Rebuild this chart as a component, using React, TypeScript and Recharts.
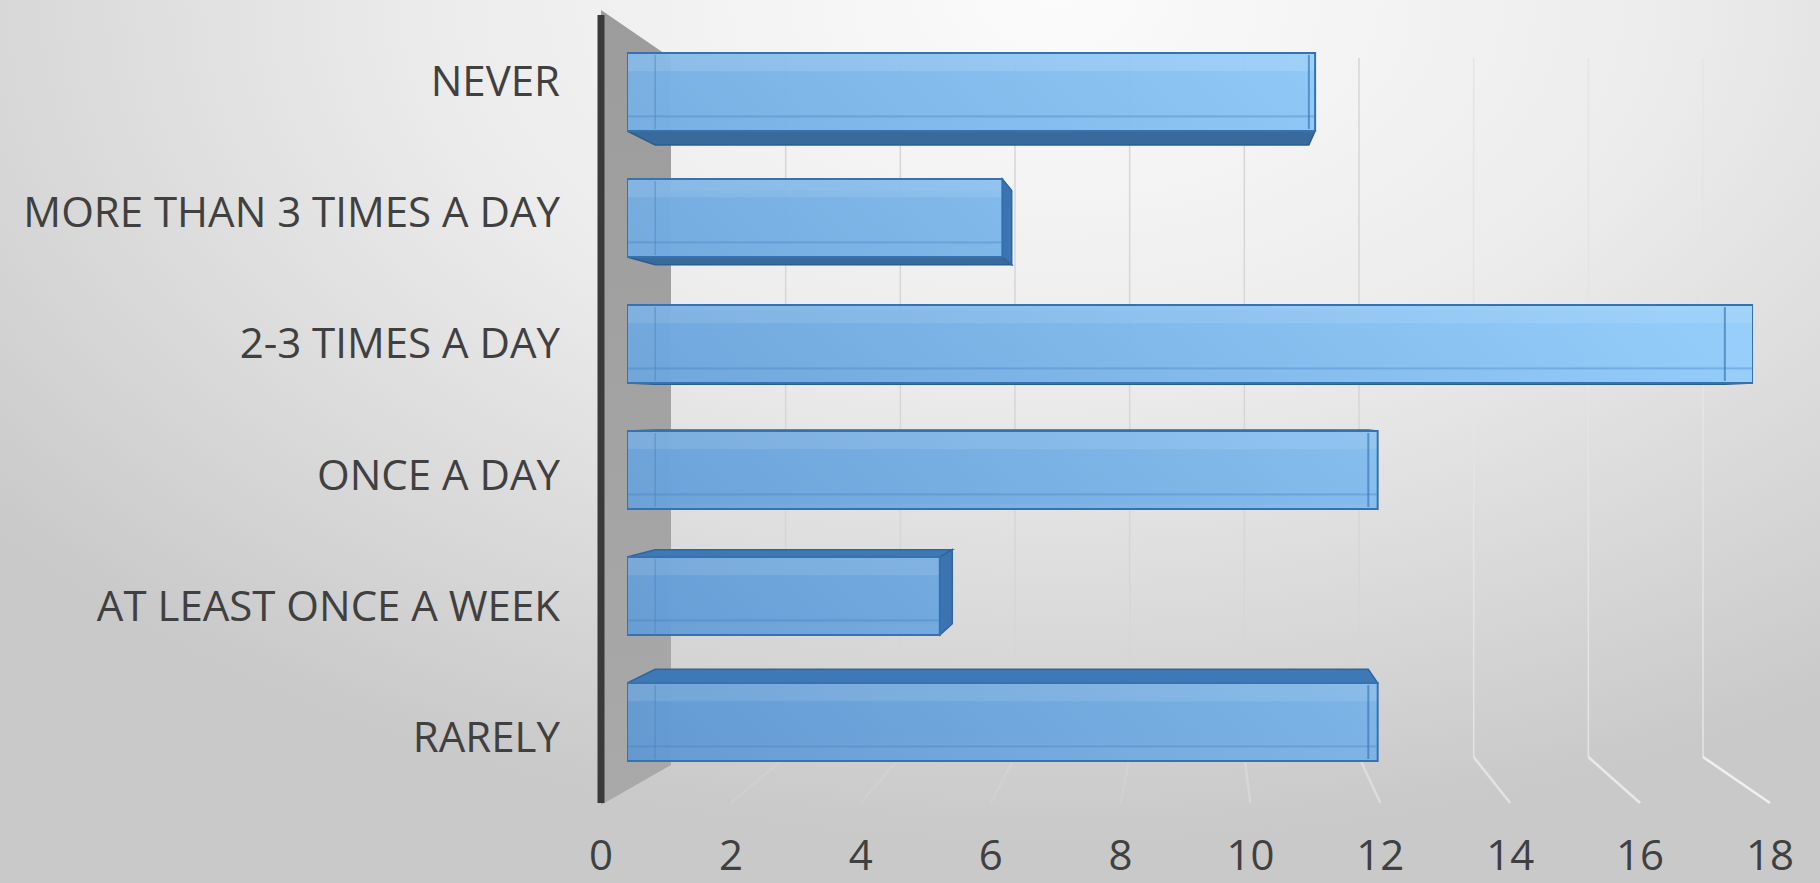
import React from "react";
import { BarChart, Bar, XAxis, YAxis, CartesianGrid } from "recharts";

// chart data
const categories = [
  "NEVER",
  "MORE THAN 3 TIMES A DAY",
  "2-3 TIMES A DAY",
  "ONCE A DAY",
  "AT LEAST ONCE A WEEK",
  "RARELY",
];
const counts = [11, 6, 18, 12, 5, 12];
const xTicks = [0, 2, 4, 6, 8, 10, 12, 14, 16, 18];

const data = categories.map((name, i) => ({ name, value: counts[i] }));

// layout
const W = 1820;
const H = 883;
const PLOT_LEFT = 601;
const MARGIN_RIGHT = 50;
const PLOT_RIGHT = W - MARGIN_RIGHT;
const BACK_PAD = { left: 70, right: 67 };
const BAR_PAD = { left: 26, right: 17 };
const WALL_TOP_DROP = 43;
const WALL_BOTTOM_RISE = 46;

// fake perspective for the "3d" bars
const VX = 1190;
const VY = 410;
const DEPTH = 0.05;

const toBack = (px: number, py: number) => [
  VX + (px - VX) * (1 - DEPTH),
  VY + (py - VY) * (1 - DEPTH),
];
const pts = (arr: number[][]) => arr.map((a) => a.join(",")).join(" ");

const GlassBar = (props: any) => {
  const { x, y, width, height, index } = props;
  if (!width || width <= 0) return null;
  const r = x + width;
  const b = y + height;
  const [bl, bt] = toBack(x, y);
  const [br, bb] = toBack(r, b);
  const below = y + height / 2 > VY;
  const gid = `glass-${index}`;
  return (
    <g>
      <defs>
        <linearGradient id={gid} gradientUnits="userSpaceOnUse" x1={PLOT_LEFT} y1={803} x2={PLOT_RIGHT - 400} y2={15}>
          <stop offset="0%" stopColor="#5e96d0" />
          <stop offset="100%" stopColor="#93cdfb" />
        </linearGradient>
      </defs>
      <rect x={bl} y={bt} width={br - bl} height={bb - bt} fill="#4f88c3" opacity={0.55} />
      {below ? (
        <polygon points={pts([[x, y], [r, y], [br, bt], [bl, bt]])} fill="#3f79b5" stroke="#2f66a0" strokeWidth={1.5} />
      ) : (
        <polygon points={pts([[x, b], [r, b], [br, bb], [bl, bb]])} fill="#396a9b" stroke="#2c5d8e" strokeWidth={1.5} />
      )}
      {br > r && (
        <polygon points={pts([[r, y], [br, bt], [br, bb], [r, b]])} fill="#3b74b0" stroke="#2f66a0" strokeWidth={1.5} />
      )}
      <rect x={x} y={y} width={width} height={height} fill={`url(#${gid})`} fillOpacity={0.95} stroke="#3472b0" strokeWidth={2} />
      <rect x={x + 1} y={y + 1} width={width - 2} height={height * 0.22} fill="#ffffff" opacity={0.1} />
      <rect x={x + 1} y={b - height * 0.2} width={width - 2} height={2} fill="#3f7dbc" opacity={0.35} />
      <line x1={bl} y1={y + 2} x2={bl} y2={b - 2} stroke="#4a85c2" strokeOpacity={0.5} strokeWidth={1.5} />
      {br < r && (
        <line x1={br} y1={y + 2} x2={br} y2={b - 2} stroke="#3d78b6" strokeOpacity={0.7} strokeWidth={2} />
      )}
    </g>
  );
};

// back wall grid lines, floor lines and the left side wall
const backLeft = PLOT_LEFT + BACK_PAD.left;
const backRight = PLOT_RIGHT - BACK_PAD.right;
const backSpan = backRight - backLeft;
const frontSpan = PLOT_RIGHT - PLOT_LEFT;

const WallLine = (props: any) => {
  const { x1, y1, y2, index } = props;
  const key = `wall-${index}`;
  if (x1 < backLeft - 1 || x1 > backRight + 1) return <g key={key} />;
  const top = y1 + WALL_TOP_DROP;
  const bottom = y2 - WALL_BOTTOM_RISE;
  const fx = PLOT_LEFT + ((x1 - backLeft) * frontSpan) / backSpan;
  const step = Math.round(((x1 - backLeft) / backSpan) * 9);
  if (step === 0) {
    return (
      <g key={key}>
        <defs>
          <linearGradient id="wallGrad" x1="0" y1="0" x2="0" y2="1">
            <stop offset="0%" stopColor="#9c9c9c" />
            <stop offset="100%" stopColor="#a9a9a9" />
          </linearGradient>
        </defs>
        <polygon
          points={pts([[PLOT_LEFT, y1 - 5], [x1, top], [x1, bottom + 8], [PLOT_LEFT, y2 + 2]])}
          fill="url(#wallGrad)"
        />
      </g>
    );
  }
  const fade = Math.max(0, (step - 4) / 5);
  return (
    <g key={key}>
      <line x1={x1} y1={top} x2={x1} y2={bottom} stroke={step > 6 ? "#e4e4e4" : "#d6d6d6"} strokeWidth={1.5} />
      <line x1={x1} y1={bottom} x2={fx} y2={y2} stroke="#f4f4f4" strokeWidth={2.5} strokeOpacity={0.1 + fade * 0.8} />
    </g>
  );
};

export default function App() {
  return (
    <div
      style={{
        position: "absolute",
        left: 0,
        top: 0,
        width: W,
        height: H,
        background:
          "radial-gradient(ellipse 75% 95% at 58% 0%, #fbfbfb 0%, #ececec 45%, #d6d6d6 80%, #c9c9c9 100%)",
      }}
    >
      <BarChart
        width={W}
        height={H}
        data={data}
        layout="vertical"
        margin={{ top: 15, right: MARGIN_RIGHT, bottom: 0, left: 0 }}
      >
        <CartesianGrid xAxisId="back" yAxisId="bars" horizontal={false} vertical={WallLine} />
        <XAxis
          xAxisId="front"
          type="number"
          domain={[0, 18]}
          ticks={xTicks}
          allowDataOverflow
          height={80}
          axisLine={false}
          tickLine={false}
          tickSize={0}
          tickMargin={37}
          tick={{ fill: "#404040", fontSize: 42, fontFamily: "Open Sans" }}
        />
        <XAxis xAxisId="bars" type="number" domain={[0, 18]} allowDataOverflow hide height={0} padding={BAR_PAD} />
        <XAxis xAxisId="back" type="number" domain={[0, 18]} ticks={xTicks} allowDataOverflow hide height={0} padding={BACK_PAD} />
        <YAxis
          yAxisId="labels"
          type="category"
          dataKey="name"
          width={PLOT_LEFT}
          axisLine={{ stroke: "#3a3a3a", strokeWidth: 7 }}
          tickLine={false}
          tickSize={0}
          tickMargin={41}
          interval={0}
          tick={{ fill: "#404040", fontSize: 42, fontFamily: "Open Sans" }}
        />
        <YAxis yAxisId="bars" type="category" dataKey="name" hide width={0} padding={{ top: 14, bottom: 18 }} />
        <Bar
          dataKey="value"
          xAxisId="bars"
          yAxisId="bars"
          barSize={78}
          shape={GlassBar}
          isAnimationActive={false}
        />
      </BarChart>
    </div>
  );
}
